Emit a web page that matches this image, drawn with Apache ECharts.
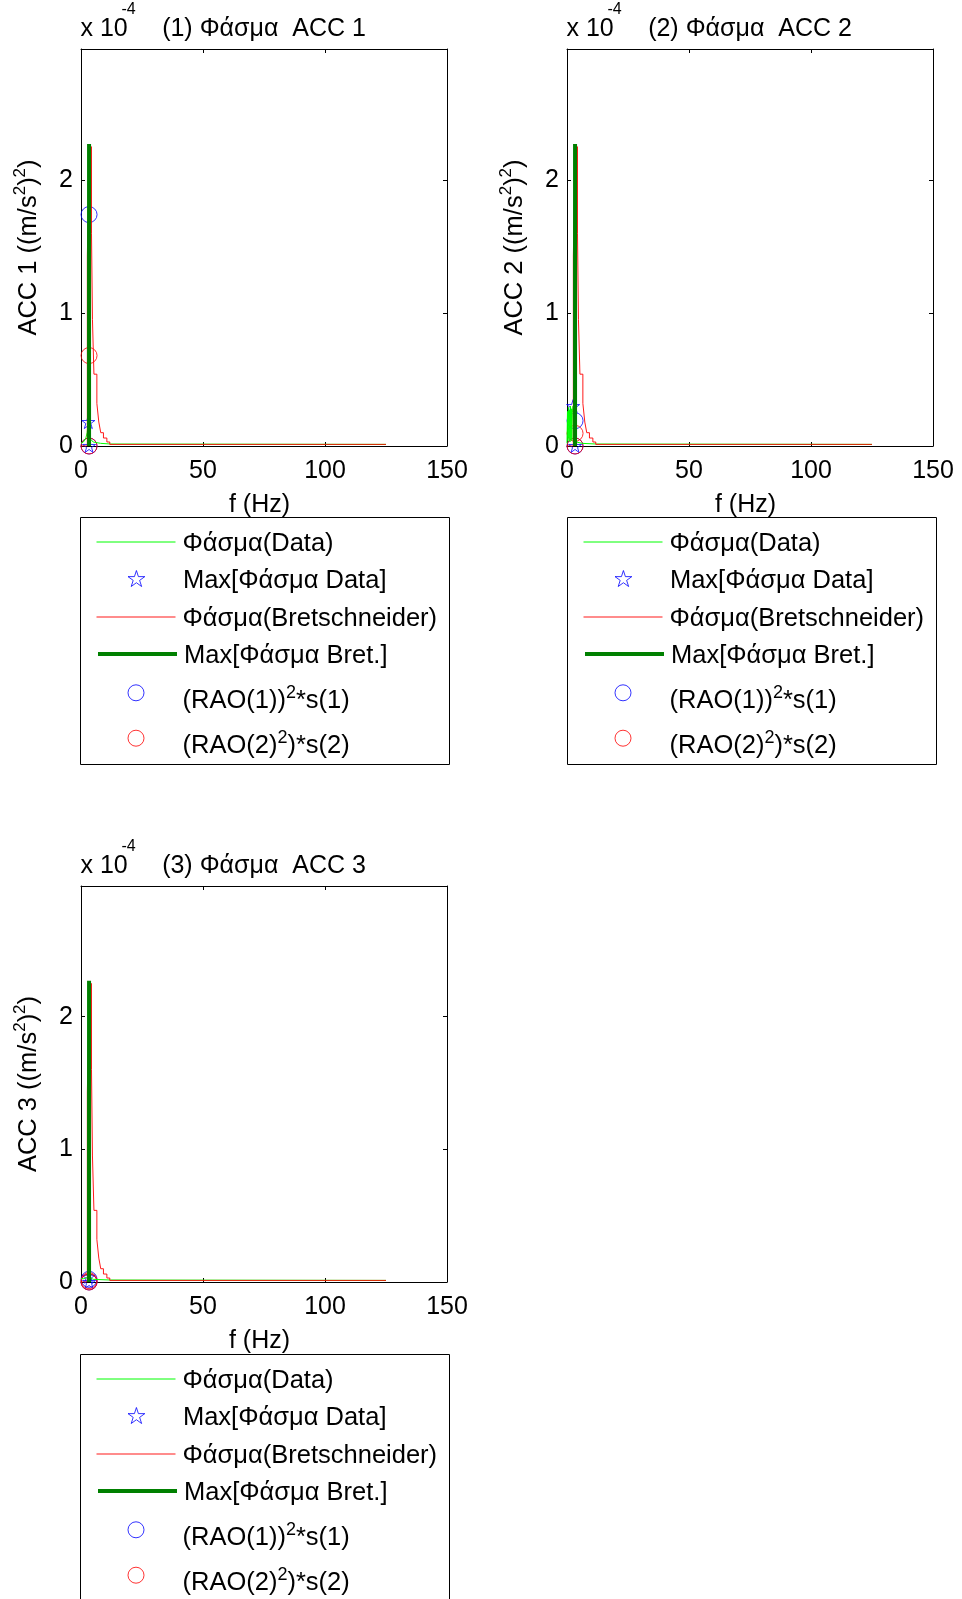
<!DOCTYPE html>
<html>
<head>
<meta charset="utf-8">
<script src="https://cdn.jsdelivr.net/npm/echarts@6/dist/echarts.min.js"></script>
<style>html,body{margin:0;padding:0;background:#fff;}#chart{width:962px;height:1599px;}</style>
</head>
<body>
<div id="chart"></div>
<script>
// ---------- data (×10^-4 for spectra) ----------
const panelTitles = ['(1) Φάσμα  ACC 1', '(2) Φάσμα  ACC 2', '(3) Φάσμα  ACC 3'];
const yAxisNames = ['ACC 1 ((m/s^2)^2)', 'ACC 2 ((m/s^2)^2)', 'ACC 3 ((m/s^2)^2)'];
const xAxisName = 'f (Hz)';
const legendNames = ['Φάσμα(Data)', 'Max[Φάσμα Data]', 'Φάσμα(Bretschneider)', 'Max[Φάσμα Bret.]', '(RAO(1))^2*s(1)', '(RAO(2)^2)*s(2)'];

// Bretschneider spectrum (stepped), same in all three panels
const bretFreq = [0, 2.6, 3.4, 4.3, 4.7, 5.3, 6.5, 7.3, 8.1, 9.2, 10.6, 11.8, 125];
const bretSpec = [0, 1.43, 2.25, 1.6, 0.95, 0.54, 0.32, 0.18, 0.1, 0.06, 0.03, 0.012, 0.012];
// Max of Bretschneider spectrum (vertical bar)
const maxBretFreq = [3.3, 3.3];
const maxBretSpec = [0, 2.27];

// Data spectra
const data1Freq = [0, 0.5, 1.0, 1.5, 2.0, 2.5, 3.0, 3.5, 4.0, 5.0, 8.0, 12.0, 125];
const data1Spec = [0.02, 0.02, 0.03, 0.04, 0.06, 0.1, 0.18, 0.09, 0.05, 0.03, 0.02, 0.015, 0.012];
const data2Freq = [0, 0.2, 0.4, 0.6, 0.8, 1.0, 1.2, 1.4, 1.6, 1.8, 2.0, 2.2, 2.5, 2.8, 3.3, 4.0, 6.0, 12.0, 125];
const data2Spec = [0.02, 0.26, 0.04, 0.29, 0.06, 0.27, 0.03, 0.3, 0.05, 0.28, 0.04, 0.25, 0.3, 0.1, 0.05, 0.03, 0.02, 0.015, 0.012];
const data3Freq = [0, 1.0, 2.0, 2.8, 3.1, 3.5, 5.0, 12.0, 125];
const data3Spec = [0.025, 0.025, 0.03, 0.035, 0.04, 0.03, 0.02, 0.015, 0.012];

// Max of data spectra (stars)
const maxData1Freq = [3.0, 3.3], maxData1Spec = [0.18, 0.0];
const maxData2Freq = [2.5, 3.3], maxData2Spec = [0.3, 0.0];
const maxData3Freq = [3.1, 3.3], maxData3Spec = [0.04, 0.0];
// (RAO(1))^2*s(1) (blue circles)
const rao1Freq = [3.3, 3.3];
const rao1Spec1 = [1.74, 0.0], rao1Spec2 = [0.19, 0.0], rao1Spec3 = [0.02, 0.0];
// (RAO(2)^2)*s(2) (red circles)
const rao2Freq = [3.3, 3.3];
const rao2Spec1 = [0.68, 0.0], rao2Spec2 = [0.095, 0.0], rao2Spec3 = [0.01, 0.0];

// ---------- layout / style ----------
const FONT = '"Liberation Sans", Arial, sans-serif';
const FS = 25;
const FS_LEG = 25.5;
const panelsLayout = [
  {left: 81, top: 49, width: 366, height: 397, legendLeft: 96, boxX: 80.5, boxY: 517.5},
  {left: 567, top: 49, width: 366, height: 397, legendLeft: 583, boxX: 567.5, boxY: 517.5},
  {left: 81, top: 886, width: 366, height: 396, legendLeft: 96, boxX: 80.5, boxY: 1354.5}
];
const legendIconCentersRel = [24.5, 61, 99.5, 136.5, 175.3, 220.7]; // relative to legend box top
const STAR = 'path://M0,-10L2.245,-3.09L9.511,-3.09L3.633,1.18L5.878,8.09L0,3.82L-5.878,8.09L-3.633,1.18L-9.511,-3.09L-2.245,-3.09Z';

const dataFreqs = [data1Freq, data2Freq, data3Freq];
const dataSpecs = [data1Spec, data2Spec, data3Spec];
const maxDataFreqs = [maxData1Freq, maxData2Freq, maxData3Freq];
const maxDataSpecs = [maxData1Spec, maxData2Spec, maxData3Spec];
const rao1Specs = [rao1Spec1, rao1Spec2, rao1Spec3];
const rao2Specs = [rao2Spec1, rao2Spec2, rao2Spec3];

const zip = (a, b) => a.map((v, i) => [v, b[i]]);
const sup = s => s.replace(/\^(\d)/g, '{s|$1}');

const grid = [], xAxis = [], yAxis = [], series = [], title = [], legend = [], graphic = [];
const textBase = {color: '#000', fontFamily: FONT, fontSize: FS};

panelsLayout.forEach((L, p) => {
  grid.push({left: L.left, top: L.top, width: L.width, height: L.height, containLabel: false, outerBoundsMode: 'none'});
  const axLine = {show: true, onZero: false, lineStyle: {color: '#000', width: 1}};
  const tick = {show: true, inside: true, length: 4, lineStyle: {color: '#000'}};
  xAxis.push({
    gridIndex: p, type: 'value', position: 'bottom', min: 0, max: 150, interval: 50,
    axisLine: axLine, axisTick: tick, splitLine: {show: false},
    axisLabel: {...textBase, margin: 12, lineHeight: 26},
    name: xAxisName, nameLocation: 'middle', nameGap: 44, nameMoveOverlap: false,
    nameTextStyle: {...textBase, lineHeight: 30, padding: [0, 9, 0, 0]}
  });
  xAxis.push({
    gridIndex: p, type: 'value', position: 'top', min: 0, max: 150, interval: 50,
    axisLine: axLine, axisTick: tick, splitLine: {show: false}, axisLabel: {show: false}
  });
  yAxis.push({
    gridIndex: p, type: 'value', position: 'left', min: 0, max: 2.985, interval: 1,
    axisLine: axLine, axisTick: tick, splitLine: {show: false},
    axisLabel: {...textBase, margin: 8, padding: [4, 0, 0, 0], showMaxLabel: false},
    name: sup(yAxisNames[p]), nameLocation: 'middle', nameGap: 35, nameRotate: 90, nameMoveOverlap: false,
    nameTextStyle: {...textBase, fontSize: 25.5, lineHeight: 34,
      rich: {s: {color: '#000', fontFamily: FONT, fontSize: 17, lineHeight: 18, verticalAlign: 'top'}}}
  });
  yAxis.push({
    gridIndex: p, type: 'value', position: 'right', min: 0, max: 2.985, interval: 1,
    axisLine: axLine, axisTick: tick, splitLine: {show: false}, axisLabel: {show: false}
  });
  const xi = p * 2, yi = p * 2;
  series.push({
    name: legendNames[0], type: 'line', xAxisIndex: xi, yAxisIndex: yi,
    data: zip(dataFreqs[p], dataSpecs[p]), symbol: 'none', silent: true,
    lineStyle: {color: '#00ff00', width: 1}, itemStyle: {color: '#00ff00'}
  });
  series.push({
    name: legendNames[1], type: 'scatter', xAxisIndex: xi, yAxisIndex: yi,
    data: zip(maxDataFreqs[p], maxDataSpecs[p]), symbol: STAR, symbolSize: 13, silent: true,
    itemStyle: {color: 'rgba(0,0,0,0)', borderColor: '#0000ff', borderWidth: 1}
  });
  series.push({
    name: legendNames[2], type: 'line', xAxisIndex: xi, yAxisIndex: yi, step: 'end',
    data: zip(bretFreq, bretSpec), symbol: 'none', silent: true,
    lineStyle: {color: '#ff0000', width: 1, opacity: 0.9}, itemStyle: {color: '#ff0000'}
  });
  series.push({
    name: legendNames[3], type: 'line', xAxisIndex: xi, yAxisIndex: yi,
    data: zip(maxBretFreq, maxBretSpec), symbol: 'none', silent: true,
    lineStyle: {color: '#008000', width: 4, cap: 'butt'}, itemStyle: {color: '#008000'}
  });
  series.push({
    name: legendNames[4], type: 'scatter', xAxisIndex: xi, yAxisIndex: yi,
    data: zip(rao1Freq, rao1Specs[p]), symbol: 'circle', symbolSize: 16, silent: true,
    itemStyle: {color: 'rgba(0,0,0,0)', borderColor: '#0000ff', borderWidth: 1}
  });
  series.push({
    name: legendNames[5], type: 'scatter', xAxisIndex: xi, yAxisIndex: yi,
    data: zip(rao2Freq, rao2Specs[p]), symbol: 'circle', symbolSize: 16, silent: true,
    itemStyle: {color: 'rgba(0,0,0,0)', borderColor: '#ff0000', borderWidth: 1}
  });

  // titles
  const cx = L.left + L.width / 2;
  title.push({text: panelTitles[p], left: cx, top: L.top - 34.5, padding: 0, textAlign: 'center', textVerticalAlign: 'top',
    textStyle: {...textBase, fontWeight: 'normal', lineHeight: 30}});
  title.push({text: 'x 10', left: L.left - 0.5, top: L.top - 34.5, padding: 0, textVerticalAlign: 'top',
    textStyle: {...textBase, fontWeight: 'normal', lineHeight: 30}});
  title.push({text: '-4', left: L.left + 40.5, top: L.top - 47, padding: 0, textVerticalAlign: 'top',
    textStyle: {...textBase, fontSize: 16, fontWeight: 'normal', lineHeight: 16}});

  // legend frame
  graphic.push({type: 'rect', silent: true, shape: {x: L.boxX, y: L.boxY, width: 369, height: 247},
    style: {fill: 'none', stroke: '#000', lineWidth: 1}});

  // legend entries (one component per entry so each row sits where the reference has it)
  legendNames.forEach((nm, i) => {
    const hasSup = nm.indexOf('^') >= 0;
    const isLine = (i === 0 || i === 2 || i === 3);
    const lh = hasSup ? 34 : 30;
    const padTop = hasSup ? 16 : 4;
    const boxH = lh + padTop;
    const cy = L.boxY + legendIconCentersRel[i];
    const lg = {
      orient: 'vertical', left: isLine ? L.legendLeft : L.legendLeft + 31.5, top: cy - boxH / 2, padding: 0,
      itemWidth: 79, itemHeight: 16, itemGap: 0, selectedMode: false,
      data: [nm],
      formatter: name => sup(name),
      textStyle: {...textBase, fontSize: FS_LEG, lineHeight: lh, padding: [padTop, 0, 0, 2],
        rich: {s: {color: '#000', fontFamily: FONT, fontSize: 18, lineHeight: 18, verticalAlign: 'top'}}}
    };
    if (isLine) {
      lg.lineStyle = {width: i === 3 ? 4 : 1};
      lg.itemStyle = {opacity: 0};
    } else {
      lg.itemStyle = {borderWidth: 1};
    }
    legend.push(lg);
  });
});

const chart = echarts.init(document.getElementById('chart'), null, {renderer: 'canvas'});
chart.setOption({
  animation: false,
  backgroundColor: '#fff',
  title, grid, xAxis, yAxis, legend, series, graphic
});
</script>
</body>
</html>
